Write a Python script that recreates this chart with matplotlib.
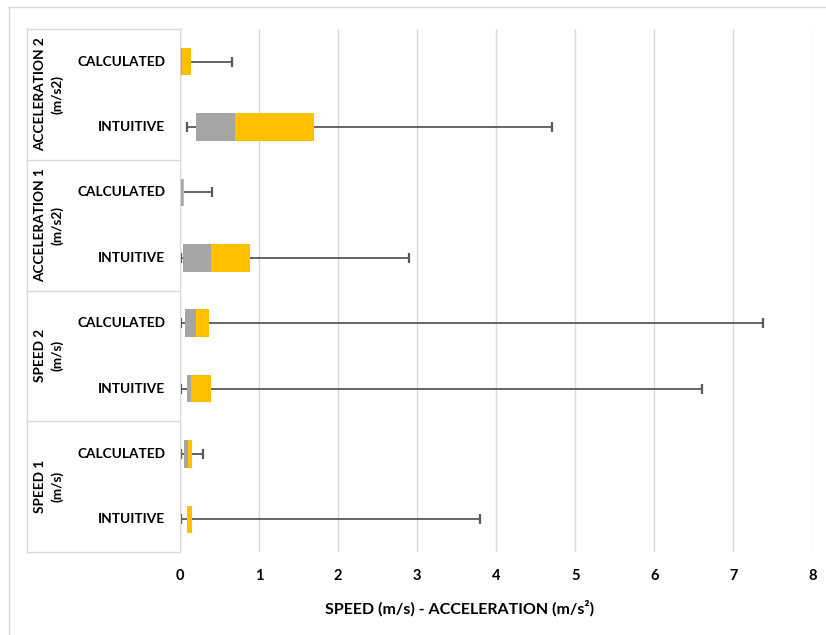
import numpy as np
import matplotlib.pyplot as plt
from matplotlib.lines import Line2D

# rows listed bottom -> top
row_labels = ["INTUITIVE", "CALCULATED"] * 4
groups = ["SPEED 1\n(m/s)", "SPEED 2\n(m/s)", "ACCELERATION 1\n(m/s2)", "ACCELERATION 2\n(m/s2)"]

mins = [0.01, 0.01, 0.01, 0.01, 0.01, 0.00, 0.09, 0.00]
q1 = [0.09, 0.05, 0.09, 0.06, 0.04, 0.01, 0.20, 0.01]
med = [0.09, 0.10, 0.14, 0.20, 0.39, 0.04, 0.69, 0.03]
q3 = [0.15, 0.155, 0.39, 0.37, 0.89, 0.05, 1.69, 0.14]
maxs = [3.79, 0.29, 6.6, 7.37, 2.9, 0.40, 4.70, 0.66]

x_ticks = list(range(0, 9))

plt.rcParams['font.family'] = ['Lato', 'DejaVu Sans']

W, H = 826, 635
fig = plt.figure(figsize=(W / 100, H / 100), dpi=100)
L, R, T, B = 180, 812.5, 29, 552
ax = fig.add_axes([L / W, 1 - B / H, (R - L) / W, (B - T) / H])

y = np.arange(len(row_labels))
gray, yellow, wc = "#A5A5A5", "#FFC000", "#595959"
grid_c = "#D9D9D9"

q1 = np.array(q1); med = np.array(med); q3 = np.array(q3)
ax.hlines(y, mins, q1, color=wc, lw=1.3, zorder=2)
ax.hlines(y, q3, maxs, color=wc, lw=1.3, zorder=2)
ax.plot(mins, y, '|', color=wc, ms=7, mew=1.6, zorder=2)
ax.plot(maxs, y, '|', color=wc, ms=7, mew=1.6, zorder=2)
ax.barh(y, med - q1, left=q1, height=0.42, color=gray, zorder=3)
ax.barh(y, q3 - med, left=med, height=0.42, color=yellow, zorder=3)

ax.set_xlim(0, 8)
ax.set_ylim(-0.5, len(row_labels) - 0.5)
ax.set_xticks(x_ticks)
ax.set_xticklabels([str(t) for t in x_ticks], fontweight='bold', fontsize=10.5)
ax.set_yticks([])
ax.tick_params(axis='x', length=0, pad=12)
ax.grid(axis='x', color=grid_c, lw=1)
ax.set_axisbelow(True)
for s in ['top', 'right', 'bottom']:
    ax.spines[s].set_visible(False)
ax.spines['left'].set_color(grid_c)

# category labels
for yi, lab in zip(y, row_labels):
    fig.text(165 / W, 1 - (B - (yi + 0.5) * (B - T) / len(y)) / H, lab,
             ha='right', va='center', fontsize=9.8, fontweight='bold')
gh = (B - T) / len(groups)
for gi, g in enumerate(groups):
    cy = B - (gi + 0.5) * gh
    fig.text(49 / W, 1 - cy / H, g, rotation=90, ha='center', va='center',
             fontsize=9.8, fontweight='bold', linespacing=1.45, multialignment='center')

# category box lines
for gi in range(len(groups) + 1):
    yy = 1 - (B - gi * gh) / H
    fig.add_artist(Line2D([27 / W, L / W], [yy, yy], color=grid_c, lw=1))
fig.add_artist(Line2D([27 / W, 27 / W], [1 - T / H, 1 - B / H], color=grid_c, lw=1))

# outer chart frame
fig.add_artist(Line2D([9 / W, 1], [1 - 7 / H, 1 - 7 / H], color=grid_c, lw=1))
fig.add_artist(Line2D([9 / W, 9 / W], [1 - 7 / H, 0], color=grid_c, lw=1))

fig.text(460 / W, 1 - 608 / H, "SPEED (m/s) - ACCELERATION (m/s²)",
         ha='center', va='center', fontsize=11.5, fontweight='bold')

fig.savefig("out.png", dpi=100)
